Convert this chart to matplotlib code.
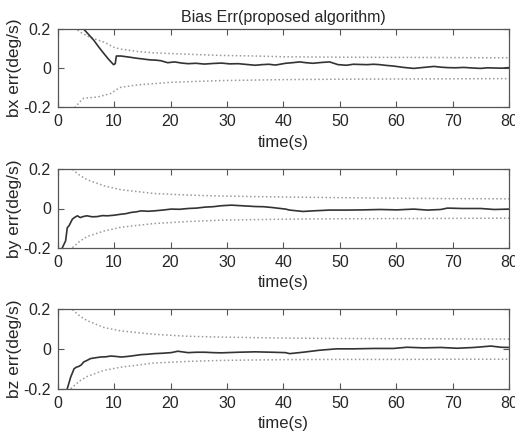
import matplotlib
matplotlib.use("Agg")
import matplotlib.pyplot as plt

# ---------------- data ----------------
# Top panel: bx error
bx_t = [0.0, 3.5, 4.6, 5.5, 6.4, 7.3, 8.2, 9.0, 9.9, 10.2, 10.4, 11.2, 12.0, 13.0, 13.9, 14.8,
        15.6, 16.5, 17.4, 18.3, 19.5, 20.7, 22.0, 23.1, 24.5, 26.0, 27.5, 29.0, 30.5, 32.0,
        33.5, 35.0, 36.2, 37.4, 38.6, 40.4, 41.6, 42.9, 44.0, 45.2, 46.7, 48.2, 49.7, 51.2,
        52.4, 53.6, 54.8, 56.0, 57.1, 58.3, 59.5, 61.3, 63.1, 64.9, 66.7, 68.0, 69.1, 70.5,
        72.0, 73.5, 75.0, 76.2, 77.4, 78.7, 80.0]
bx_v = [0.45, 0.24, 0.198, 0.170, 0.141, 0.106, 0.073, 0.045, 0.017, 0.022, 0.061, 0.061, 0.058,
        0.054, 0.050, 0.047, 0.044, 0.041, 0.040, 0.037, 0.027, 0.031, 0.025, 0.022, 0.024,
        0.020, 0.023, 0.025, 0.021, 0.022, 0.018, 0.014, 0.017, 0.019, 0.015, 0.024, 0.027,
        0.031, 0.027, 0.024, 0.028, 0.031, 0.017, 0.014, 0.019, 0.018, 0.017, 0.019, 0.017,
        0.013, 0.010, 0.003, -0.002, 0.003, 0.008, 0.004, 0.002, 0.001, 0.003, 0.000, -0.002,
        0.001, 0.000, -0.001, 0.002]
bx_bt = [3.0, 4.0, 5.8, 8.2, 10.0, 11.2, 14.2, 17.1, 23.1, 29.0, 35.0, 40.4, 50.0, 60.0, 70.0, 80.0]
bx_up = [0.207, 0.182, 0.155, 0.132, 0.105, 0.096, 0.084, 0.077, 0.070, 0.064, 0.061, 0.057,
         0.055, 0.054, 0.053, 0.052]
bx_lt = [3.0, 4.0, 4.6, 7.0, 9.4, 10.3, 11.2, 14.2, 20.0, 29.0, 40.4, 50.0, 60.0, 70.0, 80.0]
bx_lo = [-0.202, -0.170, -0.154, -0.148, -0.130, -0.112, -0.098, -0.086, -0.073, -0.064,
         -0.059, -0.057, -0.056, -0.055, -0.054]

# Middle panel: by error
by_t = [0.0, 0.5, 0.8, 1.4, 1.7, 2.0, 2.6, 3.0, 3.5, 4.0, 4.6, 5.2, 6.1, 7.0, 7.9, 8.8, 10.0,
        11.2, 12.1, 13.0, 13.9, 14.8, 16.0, 17.1, 18.6, 20.1, 21.6, 23.1, 24.6, 26.1, 27.5,
        29.0, 30.8, 32.6, 35.0, 36.5, 38.0, 40.4, 41.1, 43.5, 45.2, 48.2, 51.2, 54.2, 57.1,
        60.1, 63.1, 65.5, 67.9, 69.1, 71.7, 75.0, 77.4, 80.0]
by_v = [-0.6, -0.3, -0.20, -0.164, -0.097, -0.088, -0.054, -0.045, -0.037, -0.046, -0.040,
        -0.037, -0.042, -0.041, -0.036, -0.037, -0.034, -0.029, -0.026, -0.020, -0.017, -0.012,
        -0.014, -0.012, -0.008, -0.003, -0.004, 0.000, 0.002, 0.007, 0.009, 0.014, 0.017, 0.014,
        0.010, 0.009, 0.005, -0.003, -0.008, -0.015, -0.012, -0.008, -0.008, -0.007, -0.005,
        -0.007, -0.003, -0.008, -0.005, 0.002, 0.000, 0.000, -0.005, -0.003]
by_bt = [2.6, 4.0, 5.2, 8.2, 11.2, 17.1, 23.1, 29.0, 40.4, 50.0, 60.0, 70.0, 80.0]
by_up = [0.198, 0.166, 0.146, 0.115, 0.095, 0.076, 0.068, 0.063, 0.058, 0.055, 0.052, 0.050, 0.049]
by_lo = [-0.198, -0.164, -0.142, -0.114, -0.095, -0.076, -0.066, -0.059, -0.054, -0.052,
         -0.051, -0.050, -0.049]

# Bottom panel: bz error
bz_t = [0.0, 1.2, 1.7, 2.3, 2.9, 3.3, 3.75, 4.2, 4.6, 5.2, 5.8, 6.4, 7.6, 8.5, 9.4, 10.3,
        11.2, 12.1, 13.0, 14.8, 16.0, 17.1, 18.6, 20.1, 21.3, 23.1, 24.6, 26.1, 27.5, 29.0,
        32.0, 35.0, 38.0, 40.4, 41.1, 43.5, 46.4, 49.4, 52.4, 56.0, 59.5, 61.9, 64.9, 67.9,
        70.8, 73.8, 76.8, 78.6, 80.0]
bz_v = [-0.6, -0.3, -0.20, -0.142, -0.100, -0.092, -0.088, -0.080, -0.066, -0.058, -0.049,
        -0.046, -0.041, -0.040, -0.036, -0.038, -0.041, -0.039, -0.036, -0.029, -0.027,
        -0.024, -0.022, -0.019, -0.012, -0.019, -0.017, -0.017, -0.019, -0.020, -0.017,
        -0.015, -0.017, -0.019, -0.024, -0.017, -0.007, 0.000, 0.000, 0.002, 0.002,
        0.008, 0.005, 0.007, 0.003, 0.007, 0.014, 0.008, 0.007]
bz_bt = [2.6, 4.0, 5.2, 8.2, 11.2, 17.1, 23.1, 29.0, 40.4, 50.0, 60.0, 70.0, 80.0]
bz_up = [0.197, 0.163, 0.142, 0.107, 0.090, 0.073, 0.063, 0.059, 0.054, 0.052, 0.051, 0.050, 0.049]
bz_lt = [2.3, 4.0, 5.2, 8.2, 11.2, 17.1, 23.1, 29.0, 40.4, 50.0, 60.0, 70.0, 80.0]
bz_lo = [-0.200, -0.159, -0.139, -0.108, -0.092, -0.071, -0.063, -0.058, -0.054, -0.053,
         -0.053, -0.052, -0.052]

ylabels = ["bx err(deg/s)", "by err(deg/s)", "bz err(deg/s)"]
xticks = [0, 10, 20, 30, 40, 50, 60, 70, 80]
yticks = [-0.2, 0, 0.2]
ytick_labels = ["-0.2", "0", "0.2"]
title = "Bias Err(proposed algorithm)"

# ---------------- drawing ----------------
plt.rcParams['font.family'] = ['Liberation Sans', 'DejaVu Sans']
W, H = 515, 437
fig = plt.figure(figsize=(W / 100, H / 100), dpi=100)

left = 57.7 / W
width = (509 - 57.7) / W
boxes = [(28.7, 107.3), (169.0, 248.0), (309.0, 388.7)]

panels = [
    (bx_t, bx_v, bx_bt, bx_up, bx_lt, bx_lo),
    (by_t, by_v, by_bt, by_up, by_bt, by_lo),
    (bz_t, bz_v, bz_bt, bz_up, bz_lt, bz_lo),
]

line_col = '#333333'
dot_col = '#9a9a9a'
frame_col = '#555555'
txt_col = '#262626'

for i, ((t, v, ut, up, lt, lo), (ytop, ybot)) in enumerate(zip(panels, boxes)):
    ax = fig.add_axes([left, 1 - ybot / H, width, (ybot - ytop) / H])
    ax.plot(ut, up, linestyle=(0, (1, 1.6)), color=dot_col, lw=1.1)
    ax.plot(lt, lo, linestyle=(0, (1, 1.6)), color=dot_col, lw=1.1)
    ax.plot(t, v, color=line_col, lw=1.2)
    ax.set_xlim(0, 80)
    ax.set_ylim(-0.2, 0.2)
    ax.set_xticks(xticks)
    ax.set_yticks(yticks)
    ax.set_yticklabels(ytick_labels)
    ax.tick_params(direction='in', top=True, right=True, length=4, width=0.8,
                   color=frame_col, labelsize=11.5, labelcolor=txt_col, pad=5)
    for s in ax.spines.values():
        s.set_color(frame_col)
        s.set_linewidth(0.9)
    ax.set_xlabel("time(s)", fontsize=12, color=txt_col, labelpad=4)
    ax.set_ylabel(ylabels[i], fontsize=12.5, color=txt_col, labelpad=1)
    if i == 0:
        ax.set_title(title, fontsize=11.5, color=txt_col, pad=5)

fig.savefig("out.png", dpi=100)
